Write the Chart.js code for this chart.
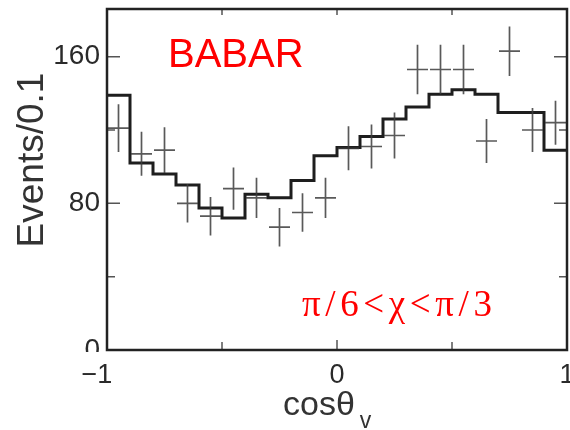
<!DOCTYPE html>
<html>
<head>
<meta charset="utf-8">
<script src="https://cdn.jsdelivr.net/npm/chart.js@4"></script>
<style>
  html, body { margin:0; padding:0; background:#fff; }
  #wrap { width:570px; height:430px; }
</style>
</head>
<body>
<div id="wrap"><canvas id="c" width="570" height="430"></canvas></div>
<script>
// bins of cos(theta_v), width 0.1
const binLow   = [-1.0,-0.9,-0.8,-0.7,-0.6,-0.5,-0.4,-0.3,-0.2,-0.1, 0.0, 0.1, 0.2, 0.3, 0.4, 0.5, 0.6, 0.7, 0.8, 0.9];
const binWidth = 0.1;
// measured events (crosses) and their errors
const dataCounts = [121, 107, 109, 80, 73, 88, 83, 67, 75, 83, 110, 111, 117, 153, 153, 153, 114, 163, 120, 124];
const dataErrors = [13, 12, 12.5, 10.5, 10.5, 11.5, 11, 10.5, 10.5, 11, 12, 12, 12.5, 13.5, 13.5, 13.5, 12, 13.5, 12, 12];
// fit histogram
const fitCounts  = [139, 102, 96, 90, 77.5, 72, 85, 83, 92.5, 106, 110.5, 116.5, 126, 132.5, 139.5, 142, 139.5, 129.5, 129.5, 109];
const xTicks = [-1, 0, 1];
const xMinor = [-0.5, 0.5];
const yTicks = [0, 80, 160];
const yMinor = [40, 120];
const xRange = [-1, 1];
const yRange = [0, 186];

const fitPoints = binLow.map((x, i) => ({ x: x, y: fitCounts[i] }));
fitPoints.push({ x: xRange[1], y: fitCounts[fitCounts.length - 1] });
const dataPoints = binLow.map((x, i) => ({ x: x + binWidth / 2, y: dataCounts[i], e: dataErrors[i], lo: x, hi: x + binWidth }));

const decor = {
  id: 'decor',
  afterDatasetsDraw(chart) {
    const ctx = chart.ctx, xs = chart.scales.x, ys = chart.scales.y;
    // crosses with error bars
    ctx.save();
    ctx.strokeStyle = 'rgba(60,60,60,0.85)';
    ctx.lineWidth = 1.7;
    dataPoints.forEach(p => {
      const cx = xs.getPixelForValue(p.x), cy = ys.getPixelForValue(p.y);
      ctx.beginPath();
      ctx.moveTo(cx, ys.getPixelForValue(p.y - p.e));
      ctx.lineTo(cx, ys.getPixelForValue(p.y + p.e));
      ctx.moveTo(xs.getPixelForValue(p.lo) + 1, cy);
      ctx.lineTo(xs.getPixelForValue(p.hi) - 1, cy);
      ctx.stroke();
    });
    ctx.restore();
  },
  afterDraw(chart) {
    const ctx = chart.ctx, a = chart.chartArea, xs = chart.scales.x, ys = chart.scales.y;
    ctx.save();
    // hide lower half of the "0" label like the original
    ctx.fillStyle = '#fff';
    ctx.fillRect(70, a.bottom + 2, a.left - 72, 7);

    // inner tick marks
    ctx.strokeStyle = '#555';
    ctx.lineWidth = 1.5;
    ctx.beginPath();
    yTicks.forEach(v => { const y = ys.getPixelForValue(v);
      ctx.moveTo(a.left, y); ctx.lineTo(a.left + 13, y);
      ctx.moveTo(a.right, y); ctx.lineTo(a.right - 13, y); });
    yMinor.forEach(v => { const y = ys.getPixelForValue(v);
      ctx.moveTo(a.left, y); ctx.lineTo(a.left + 8, y);
      ctx.moveTo(a.right, y); ctx.lineTo(a.right - 8, y); });
    xTicks.forEach(v => { const x = xs.getPixelForValue(v);
      ctx.moveTo(x, a.bottom); ctx.lineTo(x, a.bottom - 10);
      ctx.moveTo(x, a.top); ctx.lineTo(x, a.top + 6); });
    xMinor.forEach(v => { const x = xs.getPixelForValue(v);
      ctx.moveTo(x, a.bottom); ctx.lineTo(x, a.bottom - 8);
      ctx.moveTo(x, a.top); ctx.lineTo(x, a.top + 6); });
    ctx.stroke();

    // frame
    ctx.strokeStyle = '#222';
    ctx.lineWidth = 2.5;
    ctx.strokeRect(a.left, a.top, a.right - a.left, a.bottom - a.top);

    // labels
    ctx.fillStyle = '#ff0000';
    ctx.textBaseline = 'alphabetic';
    ctx.textAlign = 'left';
    ctx.font = '40px "Liberation Sans", Arial, sans-serif';
    ctx.fillText('BABAR', 168, 67);

    ctx.font = '37px "Liberation Serif", "Times New Roman", serif';
    const chi = ['\u03c0', '/', '6', '<', '\u03c7', '<', '\u03c0', '/', '3'];
    const total = chi.reduce((s, ch) => s + ctx.measureText(ch).width, 0);
    const gap = (190 - total) / (chi.length - 1);
    let tx = 302;
    chi.forEach(ch => { ctx.fillText(ch, tx, 316); tx += ctx.measureText(ch).width + gap; });

    // axis titles
    ctx.fillStyle = '#333';
    ctx.font = '34px "Liberation Sans", Arial, sans-serif';
    ctx.fillText('cos\u03b8', 283, 415);
    const w = ctx.measureText('cos\u03b8').width;
    ctx.font = '23px "Liberation Sans", Arial, sans-serif';
    ctx.fillText('v', 283 + w + 5, 428);

    ctx.translate(43, 160);
    ctx.rotate(-Math.PI / 2);
    ctx.textAlign = 'center';
    ctx.font = '37px "Liberation Sans", Arial, sans-serif';
    ctx.fillText('Events/0.1', 0, 0);
    ctx.restore();
  }
};

new Chart(document.getElementById('c'), {
  type: 'line',
  data: {
    datasets: [{
      label: 'fit',
      data: fitPoints,
      stepped: 'before',
      borderColor: '#1e1e1e',
      borderWidth: 3,
      pointRadius: 0,
      fill: false,
      clip: false
    }, {
      label: 'data',
      type: 'scatter',
      data: dataPoints,
      pointRadius: 0,
      showLine: false
    }]
  },
  options: {
    responsive: false,
    animation: false,
    devicePixelRatio: 1,
    layout: { padding: { left: 0, right: 3, top: 9, bottom: 0 } },
    plugins: { legend: { display: false }, tooltip: { enabled: false } },
    scales: {
      x: {
        type: 'linear', min: xRange[0], max: xRange[1],
        grid: { display: false, drawTicks: false },
        border: { display: false },
        afterBuildTicks: s => { s.ticks = xTicks.map(v => ({ value: v })); },
        afterFit: s => { s.height = 80; s.paddingLeft = 0; s.paddingRight = 0; },
        ticks: {
          padding: 9, color: '#2a2a2a', maxRotation: 0, autoSkip: false,
          font: { family: '"Liberation Sans", Arial, sans-serif', size: 27 },
          callback: v => v < 0 ? '\u2212' + Math.abs(v) + '\u2007\u2009' : String(v)
        }
      },
      y: {
        type: 'linear', min: yRange[0], max: yRange[1],
        grid: { display: false, drawTicks: false },
        border: { display: false },
        afterBuildTicks: s => { s.ticks = yTicks.map(v => ({ value: v })); },
        afterFit: s => { s.width = 107; s.paddingTop = 0; s.paddingBottom = 0; },
        ticks: {
          padding: 7, color: '#2a2a2a', autoSkip: false,
          font: { family: '"Liberation Sans", Arial, sans-serif', size: 28 }
        }
      }
    }
  },
  plugins: [decor]
});
</script>
</body>
</html>
